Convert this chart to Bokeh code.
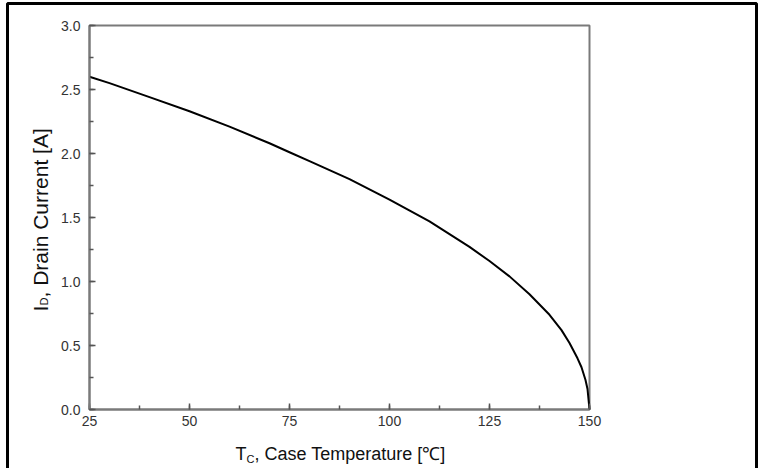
from math import pi
from bokeh.plotting import figure
from bokeh.models import (Range1d, SingleIntervalTicker, NumeralTickFormatter,
                          Label, BoxAnnotation, LinearAxis, Grid)
from bokeh.embed import file_html
from bokeh.resources import INLINE

# ---- data ----
case_temp = [25, 30, 40, 50, 60, 70, 75, 80, 90, 100, 110, 115, 120, 125,
             130, 135, 140, 143, 145, 147, 148, 149, 149.5, 150]
drain_current = [2.60, 2.55, 2.44, 2.33, 2.21, 2.08, 2.01, 1.94, 1.80, 1.64,
                 1.47, 1.37, 1.27, 1.16, 1.04, 0.90, 0.74, 0.62, 0.52, 0.40,
                 0.33, 0.23, 0.16, 0.0]
x_ticks = [25, 50, 75, 100, 125, 150]
y_ticks = [0.0, 0.5, 1.0, 1.5, 2.0, 2.5, 3.0]

W, H = 763, 468
# plot area in canvas pixels
FX0, FX1, FY0, FY1 = 89, 589, 25, 409


def px2x(px):
    return x_ticks[0] + (px - FX0) * (x_ticks[-1] - x_ticks[0]) / (FX1 - FX0)


def py2y(py):
    return y_ticks[0] + (FY1 - py) * (y_ticks[-1] - y_ticks[0]) / (FY1 - FY0)


p = figure(width=W, height=H, output_backend="svg", toolbar_location=None,
           x_range=Range1d(px2x(0), px2x(W)),
           y_range=Range1d(py2y(H), py2y(0)),
           x_axis_type=None, y_axis_type=None,
           min_border=0)
p.background_fill_color = "white"
p.border_fill_color = "white"
p.outline_line_color = None
p.grid.visible = False

xt = SingleIntervalTicker(interval=25, num_minor_ticks=2)
yt = SingleIntervalTicker(interval=0.5, num_minor_ticks=2)

# dashed grid limited to the plot area
p.add_layout(Grid(dimension=0, ticker=xt, bounds=(y_ticks[0], y_ticks[-1]),
                  grid_line_color="#cfcfcf", grid_line_dash="5 4"))
p.add_layout(Grid(dimension=1, ticker=yt, bounds=(x_ticks[0], x_ticks[-1]),
                  grid_line_color="#cfcfcf", grid_line_dash="5 4"))

xaxis = LinearAxis(ticker=xt, fixed_location=y_ticks[0],
                   bounds=(x_ticks[0], x_ticks[-1]))
yaxis = LinearAxis(ticker=yt, fixed_location=x_ticks[0],
                   bounds=(y_ticks[0], y_ticks[-1]),
                   formatter=NumeralTickFormatter(format="0.0"))
for ax in (xaxis, yaxis):
    ax.axis_line_color = "#7a7a7a"
    ax.axis_line_width = 2
    ax.major_tick_in = 6
    ax.major_tick_out = 0
    ax.minor_tick_in = 4
    ax.minor_tick_out = 0
    ax.major_tick_line_color = "#555555"
    ax.minor_tick_line_color = "#555555"
    ax.major_tick_line_width = 1.5
    ax.minor_tick_line_width = 1.5
    ax.major_label_text_font = "Liberation Sans"
    ax.major_label_text_font_size = "14px"
    ax.major_label_text_color = "#333333"
xaxis.major_label_standoff = 6
yaxis.major_label_standoff = 9
p.add_layout(xaxis, "below")
p.add_layout(yaxis, "left")

# plot-area frame (top/right sides)
p.add_layout(BoxAnnotation(left=x_ticks[0], right=x_ticks[-1],
                           bottom=y_ticks[0], top=y_ticks[-1],
                           fill_alpha=0, line_color="#7a7a7a", line_alpha=1,
                           line_width=2, level="underlay"))

p.line(case_temp, drain_current, line_color="black", line_width=2)

# empirical shift of Label text (rendered ~8 px further "down" than asked)
SHIFT = 8


def lab(text, px, py, size, angle=0.0, font="Liberation Sans"):
    if angle:
        px = px - SHIFT
    else:
        py = py - SHIFT
    p.add_layout(Label(x=px2x(px), y=py2y(py), text=text, angle=angle,
                       text_font=font, text_font_size=size,
                       text_color="#111111", text_align="left",
                       text_baseline="alphabetic"))


# x axis label: T_C, Case Temperature [℃]
lab("T", 235, 461, "18px")
lab("C", 246, 466, "11px")
lab(", Case Temperature [℃]", 254, 461, "18px")

# y axis label: I_D, Drain Current [A]
lab("I", 48, 311, "21px", angle=pi / 2)
lab("D", 51, 305, "11px", angle=pi / 2)
lab(", Drain Current [A]", 48, 297, "21px", angle=pi / 2)

# outer black border of the picture
p.add_layout(BoxAnnotation(left=px2x(7), right=px2x(756),
                           top=py2y(3), bottom=py2y(H + 40),
                           fill_alpha=0, line_color="black", line_alpha=1,
                           line_width=3))

open("out.html", "w").write(file_html(p, INLINE))
